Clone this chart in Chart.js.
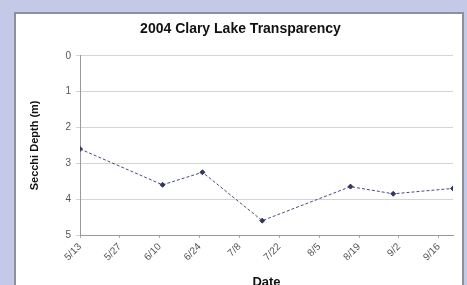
<!DOCTYPE html>
<html lang="en">
<head>
<meta charset="UTF-8">
<title>2004 Clary Lake Transparency</title>
<script src="https://cdn.jsdelivr.net/npm/chart.js@4"></script>
<style>
    html, body {
        margin: 0;
        padding: 0;
        width: 467px;
        height: 285px;
        overflow: hidden;
        background: #c5c9e8;
        font-family: "Liberation Sans", Arial, sans-serif;
    }
    #panel {
        position: absolute;
        left: 14px;
        top: 12px;
        width: 446px;
        height: 290px;
        background: #fff;
        border: 2px solid #8d9099;
    }
    canvas {
        display: block;
    }
</style>
</head>
<body>
<div id="panel">
    <canvas id="chart" width="446" height="276"></canvas>
</div>
<script>
// Secchi disk readings, 2004 (dates as month/day)
const sampleDates = ['5/13', '6/11', '6/25', '7/16', '8/16', '8/31', '9/21'];
const secchiDepth = [2.6, 3.6, 3.25, 4.6, 3.65, 3.85, 3.7];

// date axis labels, every 14 days
const dateTicks = ['5/13', '5/27', '6/10', '6/24', '7/8', '7/22', '8/5', '8/19', '9/2', '9/16'];
const depthTicks = [0, 1, 2, 3, 4, 5];

// days since first date, so the axis can be linear
function dayOf(md) {
    const [m, d] = md.split('/').map(Number);
    return Date.UTC(2004, m - 1, d) / 86400000;
}
const day0 = dayOf(dateTicks[0]);
const points = sampleDates.map((d, i) => ({ x: dayOf(d) - day0, y: secchiDepth[i] }));
const tickDays = dateTicks.map(d => dayOf(d) - day0);

const tickFont = { family: 'Liberation Sans, Arial', size: 10 };

new Chart(document.getElementById('chart'), {
    type: 'line',
    data: {
        datasets: [{
            data: points,
            borderColor: '#4a4d7a',
            borderWidth: 1,
            borderDash: [3, 2],
            pointStyle: 'rectRot',
            pointRadius: 2.5,
            pointBackgroundColor: '#33365f',
            pointBorderColor: '#33365f',
            tension: 0
        }]
    },
    options: {
        responsive: false,
        animation: false,
        layout: { padding: { left: 12, right: 9, top: 0, bottom: 0 } },
        plugins: {
            legend: { display: false },
            tooltip: { enabled: false },
            title: {
                display: true,
                text: '2004 Clary Lake Transparency',
                color: '#111',
                font: { family: 'Liberation Sans, Arial', size: 14, weight: 'bold', lineHeight: 1.2 },
                padding: { top: 7, bottom: 18 }
            }
        },
        scales: {
            x: {
                type: 'linear',
                min: 0,
                max: dayOf(sampleDates[sampleDates.length - 1]) - day0,
                afterBuildTicks: scale => {
                    scale.ticks = tickDays.map(v => ({ value: v }));
                },
                afterFit: scale => { scale.height = 55; },
                grid: { drawOnChartArea: false, color: '#aaa', tickLength: 3 },
                border: { color: '#999' },
                ticks: {
                    color: '#555',
                    font: tickFont,
                    maxRotation: 45,
                    minRotation: 45,
                    autoSkip: false,
                    callback: (v) => {
                        const i = tickDays.indexOf(v);
                        return i >= 0 ? dateTicks[i] : '';
                    }
                },
                title: {
                    display: true,
                    text: 'Date',
                    color: '#111',
                    font: { family: 'Liberation Sans, Arial', size: 13, weight: 'bold' },
                    padding: 0
                }
            },
            y: {
                reverse: true,
                min: depthTicks[0],
                max: depthTicks[depthTicks.length - 1],
                afterFit: scale => { scale.width = 52; },
                grid: { color: '#d4d4d4', tickLength: 4 },
                border: { color: '#999' },
                ticks: {
                    stepSize: 1,
                    color: '#555',
                    font: tickFont,
                    padding: 5
                },
                title: {
                    display: true,
                    text: 'Secchi Depth (m)',
                    color: '#111',
                    font: { family: 'Liberation Sans, Arial', size: 11, weight: 'bold' },
                    padding: { top: 0, bottom: 9 }
                }
            }
        }
    }
});
</script>
</body>
</html>
